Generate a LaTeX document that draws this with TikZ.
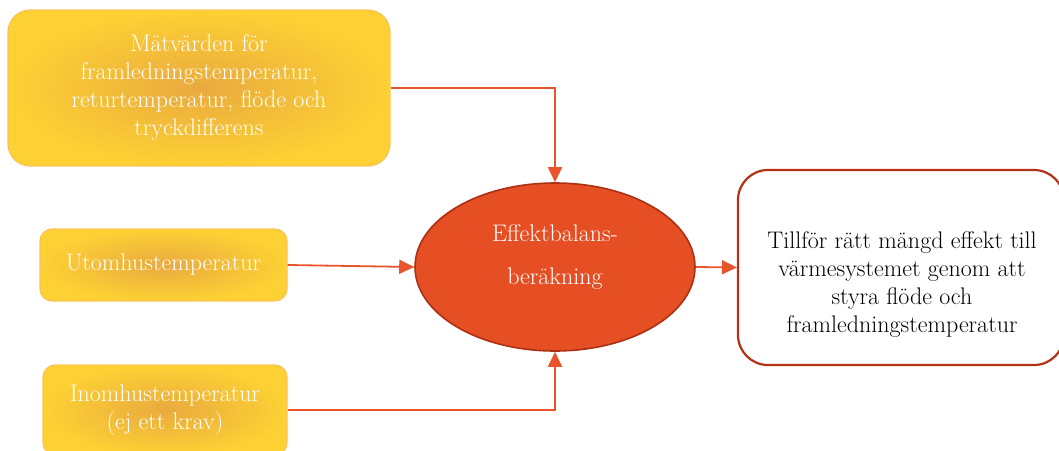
\documentclass[tikz,border=0pt]{standalone}
\usepackage{tikz}
\usetikzlibrary{shapes.geometric}
\usetikzlibrary{arrows.meta}
\definecolor{flowred}{RGB}{232,84,44}
\definecolor{calcfill}{RGB}{230,78,35}
\definecolor{calcedge}{RGB}{172,48,20}
\definecolor{ambin}{RGB}{233,170,62}
\definecolor{ambout}{RGB}{253,209,52}
\definecolor{ambedge}{RGB}{250,196,92}
\definecolor{resedge}{RGB}{180,50,20}
\tikzstyle{txt}=[font=\fontsize{24}{28}\selectfont, align=center]
\tikzstyle{inbox}=[txt, text=white, rounded corners=22pt, draw=ambedge, line width=1.2pt, shade, inner color=ambin, outer color=ambout]
\tikzstyle{calc}=[ellipse, draw=calcedge, line width=1.6pt, fill=calcfill, inner sep=0pt, minimum width=280pt, minimum height=168pt]
\tikzstyle{calctext}=[font=\fontsize{24}{43}\selectfont, align=center, text=white]
\tikzstyle{outbox}=[draw=resedge, line width=2.2pt, fill=white, rounded corners=30pt, minimum width=326pt, minimum height=195pt]

\tikzstyle{flow}=[draw=flowred, line width=1.8pt, -{Triangle[length=15pt,width=14pt]}]

\begin{document}
\begin{tikzpicture}[x=1pt, y=-1pt]
        \useasboundingbox (0,0) rectangle (1059,450);
        \clip (0,0) rectangle (1059,450);
        \node[inbox, minimum width=382pt, minimum height=156pt] (meas) at (199, 88)
            {Mätvärden för\\framledningstemperatur,\\returtemperatur, flöde och\\tryckdifferens};
        \node[inbox, minimum width=247pt, minimum height=72pt, rounded corners=12pt] (outdoor) at (163.5, 265) {Utomhustemperatur};
        \node[inbox, minimum width=244pt, minimum height=90pt, rounded corners=12pt] (indoor) at (165, 410)
            {Inomhustemperatur\\(ej ett krav)};
        \node[calc] (eb) at (555, 267) {};
        \node[calctext] (ebtext) at (555, 257) {Effektbalans-\\beräkning};
        \node[outbox] (result) at (901, 267.5) {};
        \node[txt] (resulttext) at (902, 285)
            {Tillför rätt mängd effekt till\\värmesystemet genom att\\styra flöde och\\framledningstemperatur};
        \draw[flow] (meas.east) -| (eb.north);
        \draw[flow] (outdoor.east) -- (eb.west);
        \draw[flow] (indoor.east) -| (eb.south);
        \draw[flow] (eb.east) -- (result.west);
    \end{tikzpicture}
\end{document}
